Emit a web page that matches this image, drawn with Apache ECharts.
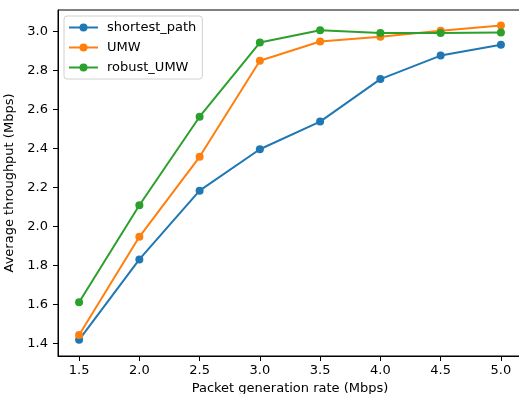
<!DOCTYPE html>
<html lang="en">
<head>
    <meta http-equiv="content-type" content="text/html; charset=utf-8" />
    <script type="text/javascript" src="https://cdn.jsdelivr.net/npm/echarts@6/dist/echarts.min.js"></script>
    <title>Average throughput</title>
    <style>
        html, body { margin: 0; padding: 0; background: #fff; }
        #chart { width: 519px; height: 394px; }
    </style>
</head>
<body>
<div id="chart"></div>
<script type="text/javascript">
    // data
    var rates = [1.5, 2.0, 2.5, 3.0, 3.5, 4.0, 4.5, 5.0];
    var shortestPath = [1.417, 1.830, 2.183, 2.396, 2.538, 2.756, 2.877, 2.933];
    var umw = [1.442, 1.946, 2.357, 2.850, 2.949, 2.973, 3.004, 3.031];
    var robustUmw = [1.610, 2.108, 2.563, 2.944, 3.007, 2.993, 2.993, 2.995];
    var xTicks = [1.5, 2.0, 2.5, 3.0, 3.5, 4.0, 4.5, 5.0];
    var yTicks = [1.4, 1.6, 1.8, 2.0, 2.2, 2.4, 2.6, 2.8, 3.0];

    function pairs(ys) {
        var out = [];
        for (var i = 0; i < rates.length; i++) {
            out.push([rates[i], ys[i]]);
        }
        return out;
    }

    var font = 'DejaVu Sans';
    var fs = 13;
    var chart = echarts.init(document.getElementById('chart'), null, {renderer: 'canvas'});

    function line(name, ys, color) {
        return {
            name: name,
            type: 'line',
            data: pairs(ys),
            symbol: 'circle',
            symbolSize: 8,
            showAllSymbol: true,
            lineStyle: {color: color, width: 2},
            itemStyle: {color: color},
            emphasis: {disabled: true},
            animation: false
        };
    }

    chart.setOption({
        backgroundColor: '#fff',
        animation: false,
        grid: {
            left: 58, top: 10, width: 464, height: 346,
            outerBoundsMode: 'none',
            containLabel: false,
            show: true, borderColor: '#000', borderWidth: 1, backgroundColor: 'transparent'
        },
        legend: {
            left: 64, top: 16,
            orient: 'vertical',
            itemGap: 7,
            itemWidth: 29,
            itemHeight: 10,
            padding: [5, 6, 5, 4],
            borderColor: '#d0d0d0',
            borderWidth: 1,
            borderRadius: 3,
            backgroundColor: 'rgba(255,255,255,0.8)',
            textStyle: {fontFamily: font, fontSize: fs, color: '#000', padding: [0, 0, 0, 4]},
            data: ['shortest_path', 'UMW', 'robust_UMW']
        },
        xAxis: {
            type: 'value',
            min: 1.325, max: 5.175,
            name: 'Packet generation rate (Mbps)',
            nameLocation: 'middle',
            nameGap: 24,
            nameTextStyle: {fontFamily: font, fontSize: fs, color: '#000'},
            axisLine: {show: true, lineStyle: {color: '#000', width: 1}},
            axisTick: {show: true, inside: false, length: 5, customValues: xTicks, lineStyle: {color: '#000'}},
            axisLabel: {
                customValues: xTicks, margin: 8,
                fontFamily: font, fontSize: fs, color: '#000',
                formatter: function (v) { return v.toFixed(1); }
            },
            splitLine: {show: false}
        },
        yAxis: {
            type: 'value',
            min: 1.334, max: 3.111,
            name: 'Average throughput (Mbps)',
            nameLocation: 'middle',
            nameGap: 37,
            nameTextStyle: {fontFamily: font, fontSize: fs, color: '#000'},
            axisLine: {show: true, lineStyle: {color: '#000', width: 1}},
            axisTick: {show: true, inside: false, length: 5, customValues: yTicks, lineStyle: {color: '#000'}},
            axisLabel: {
                customValues: yTicks, margin: 10,
                fontFamily: font, fontSize: fs, color: '#000',
                formatter: function (v) { return v.toFixed(1); }
            },
            splitLine: {show: false}
        },
        series: [
            line('shortest_path', shortestPath, '#1f77b4'),
            line('UMW', umw, '#ff7f0e'),
            line('robust_UMW', robustUmw, '#2ca02c')
        ]
    });
</script>
</body>
</html>
